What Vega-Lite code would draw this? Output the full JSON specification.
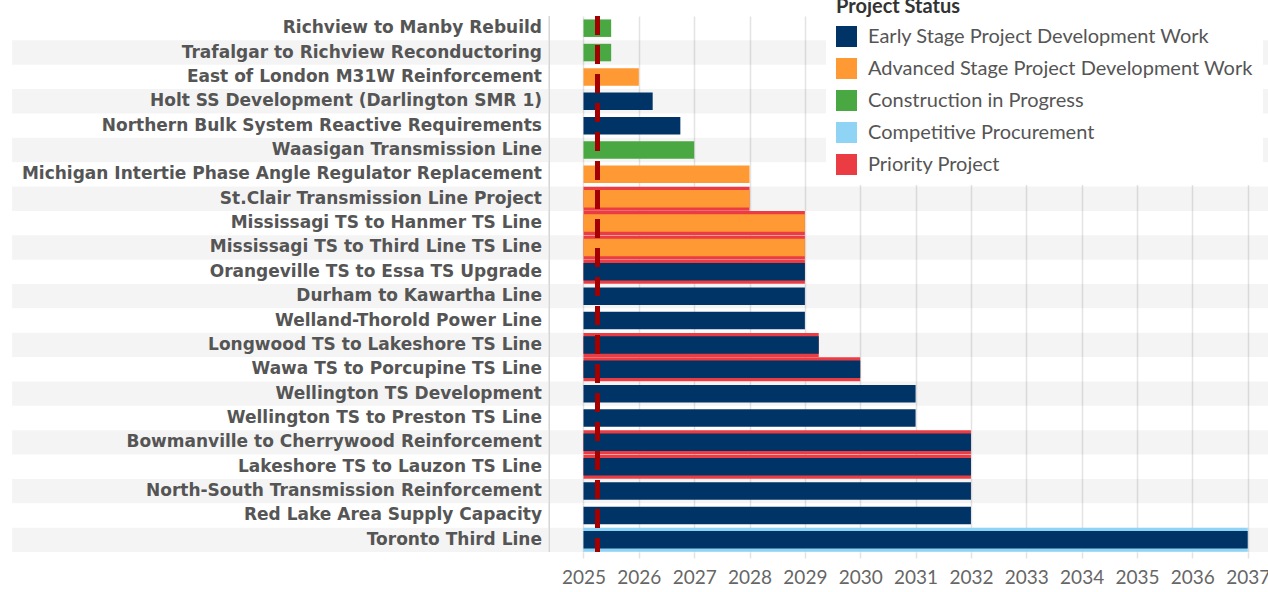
{
  "$schema": "https://vega.github.io/schema/vega-lite/v6.json",
  "width": 1268,
  "height": 536,
  "autosize": {"type": "none"},
  "padding": {"top": 16, "left": 0, "right": 0, "bottom": 40},
  "background": "white",
  "config": {"view": {"stroke": null}},
  "data": {
    "values": [
      {"order": 1, "project": "Richview to Manby Rebuild", "status": "Construction in Progress", "start": 2025, "end": 2025.5},
      {"order": 2, "project": "Trafalgar to Richview Reconductoring", "status": "Construction in Progress", "start": 2025, "end": 2025.5},
      {"order": 3, "project": "East of London M31W Reinforcement", "status": "Advanced Stage Project Development Work", "start": 2025, "end": 2026},
      {"order": 4, "project": "Holt SS Development (Darlington SMR 1)", "status": "Early Stage Project Development Work", "start": 2025, "end": 2026.25},
      {"order": 5, "project": "Northern Bulk System Reactive Requirements", "status": "Early Stage Project Development Work", "start": 2025, "end": 2026.75},
      {"order": 6, "project": "Waasigan Transmission Line", "status": "Construction in Progress", "start": 2025, "end": 2027},
      {"order": 7, "project": "Michigan Intertie Phase Angle Regulator Replacement", "status": "Advanced Stage Project Development Work", "start": 2025, "end": 2028},
      {"order": 8, "project": "St.Clair Transmission Line Project", "status": "Advanced Stage Project Development Work", "flag": "Priority Project", "start": 2025, "end": 2028},
      {"order": 9, "project": "Mississagi TS to Hanmer TS Line", "status": "Advanced Stage Project Development Work", "flag": "Priority Project", "start": 2025, "end": 2029},
      {"order": 10, "project": "Mississagi TS to Third Line TS Line", "status": "Advanced Stage Project Development Work", "flag": "Priority Project", "start": 2025, "end": 2029},
      {"order": 11, "project": "Orangeville TS to Essa TS Upgrade", "status": "Early Stage Project Development Work", "flag": "Priority Project", "start": 2025, "end": 2029},
      {"order": 12, "project": "Durham to Kawartha Line", "status": "Early Stage Project Development Work", "start": 2025, "end": 2029},
      {"order": 13, "project": "Welland-Thorold Power Line", "status": "Early Stage Project Development Work", "start": 2025, "end": 2029},
      {"order": 14, "project": "Longwood TS to Lakeshore TS Line", "status": "Early Stage Project Development Work", "flag": "Priority Project", "start": 2025, "end": 2029.25},
      {"order": 15, "project": "Wawa TS to Porcupine TS Line", "status": "Early Stage Project Development Work", "flag": "Priority Project", "start": 2025, "end": 2030},
      {"order": 16, "project": "Wellington TS Development", "status": "Early Stage Project Development Work", "start": 2025, "end": 2031},
      {"order": 17, "project": "Wellington TS to Preston TS Line", "status": "Early Stage Project Development Work", "start": 2025, "end": 2031},
      {"order": 18, "project": "Bowmanville to Cherrywood Reinforcement", "status": "Early Stage Project Development Work", "flag": "Priority Project", "start": 2025, "end": 2032},
      {"order": 19, "project": "Lakeshore TS to Lauzon TS Line", "status": "Early Stage Project Development Work", "flag": "Priority Project", "start": 2025, "end": 2032},
      {"order": 20, "project": "North-South Transmission Reinforcement", "status": "Early Stage Project Development Work", "start": 2025, "end": 2032},
      {"order": 21, "project": "Red Lake Area Supply Capacity", "status": "Early Stage Project Development Work", "start": 2025, "end": 2032},
      {"order": 22, "project": "Toronto Third Line", "status": "Early Stage Project Development Work", "flag": "Competitive Procurement", "start": 2025, "end": 2037}
    ]
  },
  "layer": [
    {
      "transform": [{"filter": "datum.order % 2 == 0"}],
      "mark": {"type": "rect", "color": "#000000", "opacity": 0.045},
      "encoding": {
        "y": {"field": "project", "type": "nominal", "sort": {"field": "order"}, "scale": {"paddingInner": 0, "paddingOuter": 0}, "axis": null},
        "x": {
          "datum": 2014.675,
          "type": "quantitative",
          "scale": {"domain": [2014.458, 2037.367], "nice": false, "zero": false},
          "axis": {
            "values": [2025, 2026, 2027, 2028, 2029, 2030, 2031, 2032, 2033, 2034, 2035, 2036, 2037],
            "format": "d",
            "title": null,
            "domain": false,
            "grid": true,
            "gridColor": "#e3e3e3",
            "gridWidth": 1.5,
            "ticks": true,
            "tickColor": "#e3e3e3",
            "tickWidth": 1.5,
            "tickSize": 6,
            "labelFont": "Lato",
            "labelFontSize": 19,
            "labelColor": "#666666",
            "labelPadding": 10,
            "labelFlush": false,
            "labelOverlap": false
          }
        },
        "x2": {"datum": 2037.367}
      }
    },
    {
      "mark": {"type": "rule", "color": "#d6d6d6", "strokeWidth": 1},
      "encoding": {"x": {"datum": 2024.385, "type": "quantitative"}}
    },
    {
      "transform": [{"filter": "isValid(datum.flag)"}],
      "mark": {"type": "bar", "size": 24},
      "encoding": {
        "y": {"field": "project", "type": "nominal", "sort": {"field": "order"}},
        "x": {"field": "start", "type": "quantitative"},
        "x2": {"field": "end"},
        "color": {"field": "flag", "type": "nominal", "title": "Project Status"}
      }
    },
    {
      "mark": {"type": "bar", "size": 17.5},
      "encoding": {
        "y": {"field": "project", "type": "nominal", "sort": {"field": "order"}},
        "x": {"field": "start", "type": "quantitative"},
        "x2": {"field": "end"},
        "color": {
          "field": "status",
          "type": "nominal",
          "title": "Project Status",
          "scale": {
            "domain": ["Early Stage Project Development Work", "Advanced Stage Project Development Work", "Construction in Progress", "Competitive Procurement", "Priority Project"],
            "range": ["#003366", "#ff9933", "#4aa842", "#8fd3f5", "#ea3c42"]
          },
          "legend": {
            "orient": "none",
            "legendX": 826,
            "legendY": -29,
            "fillColor": "white",
            "padding": 10,
            "titleFont": "Lato",
            "titleFontSize": 20,
            "titleFontWeight": "bold",
            "titleColor": "#333333",
            "titlePadding": 9,
            "labelFont": "Lato",
            "labelFontSize": 20,
            "labelColor": "#555555",
            "labelOffset": 11,
            "labelLimit": 600,
            "symbolType": "square",
            "symbolSize": 441,
            "symbolStrokeWidth": 0,
            "rowPadding": 11
          }
        }
      }
    },
    {
      "mark": {"type": "rule", "color": "#a30000", "strokeWidth": 4.5, "strokeDash": [19, 10]},
      "encoding": {"x": {"datum": 2025.25, "type": "quantitative"}}
    },
    {
      "mark": {"type": "text", "align": "right", "baseline": "middle", "font": "DejaVu Sans", "fontWeight": "bold", "fontSize": 17, "color": "#555555"},
      "encoding": {
        "y": {"field": "project", "type": "nominal", "sort": {"field": "order"}},
        "x": {"datum": 2024.25, "type": "quantitative"},
        "text": {"field": "project"}
      }
    }
  ]
}
